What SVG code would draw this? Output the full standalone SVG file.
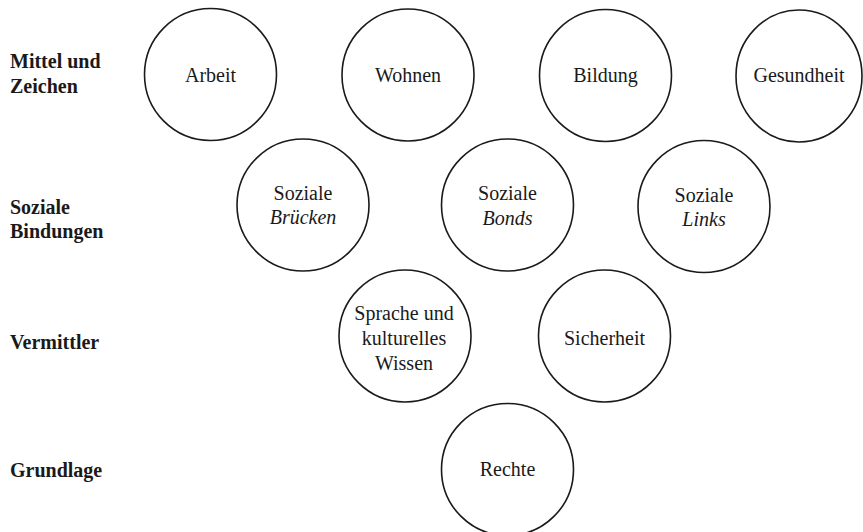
<svg xmlns="http://www.w3.org/2000/svg" width="863" height="532" viewBox="0 0 863 532">
<style>
.c{fill:#fff;stroke:#1a1a1a;stroke-width:1.6}
.t{font-family:'Liberation Serif','Tinos','Times New Roman','DejaVu Serif',serif;font-size:20px;fill:#1a1a1a;text-anchor:middle}
.i{font-style:italic}
.l{font-family:'Liberation Serif','Tinos','Times New Roman','DejaVu Serif',serif;font-size:20px;font-weight:bold;fill:#1a1a1a}
</style>
<rect width="863" height="532" fill="#fff"/>
<g id="labels">
<text class="l" x="10" y="68">Mittel und</text>
<text class="l" x="10" y="93">Zeichen</text>
<text class="l" x="10" y="214">Soziale</text>
<text class="l" x="10" y="238">Bindungen</text>
<text class="l" x="10" y="349">Vermittler</text>
<text class="l" x="10" y="477">Grundlage</text>
</g>
<g id="connectors"></g>
<g id="arbeit"><circle class="c" cx="210.5" cy="74.5" r="66"/><text class="t" x="210.5" y="82">Arbeit</text></g>
<g id="wohnen"><circle class="c" cx="408" cy="75" r="66"/><text class="t" x="408" y="82">Wohnen</text></g>
<g id="bildung"><circle class="c" cx="605.5" cy="75.5" r="66"/><text class="t" x="605.5" y="82">Bildung</text></g>
<g id="gesundheit"><ellipse class="c" cx="799" cy="76" rx="63" ry="66"/><text class="t" x="799" y="82">Gesundheit</text></g>
<g id="bruecken"><circle class="c" cx="303" cy="205" r="66"/><text class="t" x="303" y="199.5">Soziale</text><text class="t i" x="303" y="224">Brücken</text></g>
<g id="bonds"><circle class="c" cx="507.5" cy="205" r="66"/><text class="t" x="507.5" y="200">Soziale</text><text class="t i" x="507.5" y="224.5">Bonds</text></g>
<g id="links"><circle class="c" cx="704" cy="206.5" r="66"/><text class="t" x="704" y="201.5">Soziale</text><text class="t i" x="704" y="226">Links</text></g>
<g id="sprache"><circle class="c" cx="405" cy="336" r="66"/><text class="t" x="404" y="319.5">Sprache und</text><text class="t" x="404" y="344.5">kulturelles</text><text class="t" x="404" y="369.5">Wissen</text></g>
<g id="sicherheit"><circle class="c" cx="604.5" cy="336" r="66"/><text class="t" x="604.5" y="345">Sicherheit</text></g>
<g id="rechte"><circle class="c" cx="507.5" cy="469.5" r="66"/><text class="t" x="507.5" y="476">Rechte</text></g>
</svg>
